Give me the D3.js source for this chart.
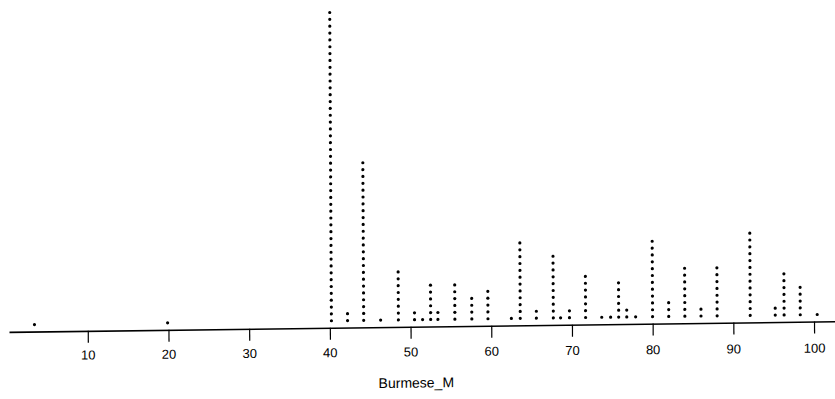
<!DOCTYPE html>
<html>
<head>
<meta charset="utf-8">
<script src="https://cdn.jsdelivr.net/npm/d3@7"></script>
<style>
  html, body { margin: 0; padding: 0; background: #fff; }
  svg { display: block; }
</style>
</head>
<body>
<svg id="chart" width="835" height="399"></svg>
<script>
// ---- data ----
const values = [3.4, 19.9, 40.2, 42.2, 44.2, 46.3, 48.5, 50.5, 51.5, 52.5, 53.4, 55.5, 57.6, 59.6,
                62.5, 63.6, 65.6, 67.7, 68.6, 69.7, 71.7, 73.7, 74.8, 75.8, 76.8, 77.9, 80.0,
                82.0, 84.0, 86.0, 88.0, 92.1, 95.2, 96.3, 98.3, 100.4];
const counts = [1, 1, 46, 2, 24, 1, 8, 2, 1, 6, 2, 6, 4, 5,
                1, 12, 2, 10, 1, 2, 7, 1, 1, 6, 2, 1, 12,
                3, 8, 2, 8, 13, 2, 7, 5, 1];
const tickValues = [10, 20, 30, 40, 50, 60, 70, 80, 90, 100];
const xTitle = "Burmese_M";

// ---- layout ----
const axisY = 326.6;
const svg = d3.select("#chart");
const font = "'Liberation Sans', Arial, sans-serif";

// slight scan tilt of the original
const px = 420, py = axisY;
function tilt(k, m) {
  return `matrix(1,${k},${m},1,${-m * py},${-k * px})`;
}
const g = svg.append("g").attr("transform", tilt(-0.0128, 0.0055));
const gText = svg.append("g").attr("transform", tilt(-0.0093, 0.0));

const x = d3.scaleLinear().domain([0.24, 102.6]).range([9, 835]);
const maxCount = d3.max(counts);
const y = d3.scaleLinear().domain([0, maxCount - 1])
  .range([axisY - 7, axisY - 7 - (maxCount - 1) * 6.85]);

// dots
const dots = [];
values.forEach((v, i) => {
  for (let j = 0; j < counts[i]; j++) dots.push({ v, j });
});
g.append("g").selectAll("circle").data(dots).join("circle")
  .attr("cx", d => x(d.v))
  .attr("cy", d => y(d.j))
  .attr("r", 1.6)
  .attr("fill", "#000");

// axis line + ticks
const ax = g.append("g").attr("transform", `translate(0,${axisY})`)
  .call(d3.axisBottom(x).tickValues(tickValues).tickSize(12).tickSizeOuter(0).tickFormat(""));
ax.select(".domain").attr("stroke", "#000").attr("stroke-width", 1.6);
ax.selectAll(".tick line").attr("stroke", "#000").attr("stroke-width", 1.2);

// tick labels
const axT = gText.append("g").attr("transform", `translate(0,${axisY})`)
  .call(d3.axisBottom(x).tickValues(tickValues).tickSize(0).tickPadding(20.5));
axT.select(".domain").remove();
axT.selectAll(".tick text")
  .attr("fill", "#000")
  .style("font-family", font)
  .style("font-size", "13px");

// axis title
g.append("text")
  .attr("x", 416)
  .attr("y", axisY + 61)
  .attr("text-anchor", "middle")
  .style("font-family", font)
  .style("font-size", "14px")
  .attr("fill", "#000")
  .text(xTitle);
</script>
</body>
</html>
